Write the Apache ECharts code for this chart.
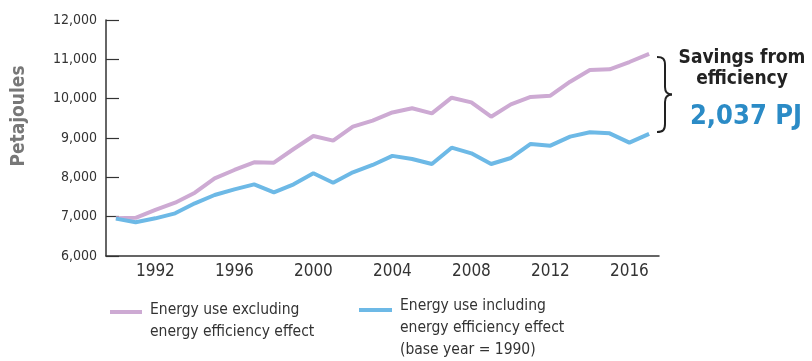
<!DOCTYPE html>
<html>
<head>
<meta charset="utf-8">
<script src="https://cdn.jsdelivr.net/npm/echarts@6/dist/echarts.min.js"></script>
<style>
  html, body { margin: 0; padding: 0; background: #fff; }
  #chart { width: 812px; height: 361px; }
</style>
</head>
<body>
<div id="chart"></div>
<script>
const years = [1990,1991,1992,1993,1994,1995,1996,1997,1998,1999,2000,2001,2002,2003,2004,2005,2006,2007,2008,2009,2010,2011,2012,2013,2014,2015,2016,2017];
const excludingEfficiency = [6960,6970,7170,7356,7610,7975,8187,8382,8373,8720,9051,8932,9288,9441,9650,9755,9627,10025,9907,9542,9856,10043,10076,10432,10729,10746,10932,11140];
const includingEfficiency = [6950,6856,6958,7085,7339,7551,7695,7822,7619,7822,8103,7864,8128,8314,8545,8466,8339,8754,8610,8339,8492,8848,8805,9034,9145,9119,8882,9103];
const yTicks = [6000,7000,8000,9000,10000,11000,12000];
const yAxisTitle = 'Petajoules';
const seriesNames = ['Energy use excluding\nenergy efficiency effect', 'Energy use including\nenergy efficiency effect\n(base year = 1990)'];
const savingsLabel = 'Savings from\nefficiency';
const savingsValue = '2,037 PJ';

const FONT = '"DejaVu Sans Condensed", "Liberation Sans", sans-serif';
const PINK = '#cdaad3';
const BLUE = '#6db9e6';

const braceStyle = { stroke: '#222', lineWidth: 2, fill: null };
const chart = echarts.init(document.getElementById('chart'), null, {renderer: 'canvas'});
chart.setOption({
  animation: false,
  textStyle: { fontFamily: FONT },
  grid: { left: 106, right: 153, top: 20, bottom: 105, containLabel: false },
  xAxis: {
    type: 'category',
    data: years.map(String),
    boundaryGap: true,
    axisLine: { lineStyle: { color: '#333', width: 1.5 } },
    axisTick: { inside: true, length: 5, interval: 0, lineStyle: { color: '#333', width: 1.2 } },
    axisLabel: {
      interval: (i, v) => (Number(v) - 1992) % 4 === 0,
      color: '#333', fontSize: 17, fontFamily: FONT, margin: 7
    },
    splitLine: { show: false }
  },
  yAxis: {
    type: 'value',
    min: yTicks[0], max: yTicks[yTicks.length - 1], interval: 1000,
    axisLine: { show: true, lineStyle: { color: '#333', width: 1.5 } },
    axisTick: { show: true, inside: true, length: 13, lineStyle: { color: '#333', width: 1.2 } },
    axisLabel: {
      color: '#333', fontSize: 14, fontFamily: FONT, margin: 9,
      formatter: v => v.toLocaleString('en-US')
    },
    splitLine: { show: false }
  },
  series: [
    {
      name: seriesNames[0], type: 'line', data: excludingEfficiency,
      symbol: 'none', lineStyle: { color: PINK, width: 4 }, itemStyle: { color: PINK }, z: 2
    },
    {
      name: seriesNames[1], type: 'line', data: includingEfficiency,
      symbol: 'none', lineStyle: { color: BLUE, width: 4 }, itemStyle: { color: BLUE }, z: 3
    }
  ],
  graphic: [
    // y axis title
    { type: 'text', x: 19, y: 116, rotation: Math.PI / 2,
      style: { text: yAxisTitle, fill: '#777', font: 'bold 19px ' + FONT, align: 'center', verticalAlign: 'middle' } },
    // legend
    { type: 'line', shape: { x1: 110, y1: 312, x2: 142, y2: 312 }, style: { stroke: PINK, lineWidth: 4 } },
    { type: 'text', x: 150, y: 299, style: { text: seriesNames[0], fill: '#333', font: '15.5px ' + FONT, lineHeight: 22 } },
    { type: 'line', shape: { x1: 359, y1: 310, x2: 392, y2: 310 }, style: { stroke: BLUE, lineWidth: 4 } },
    { type: 'text', x: 400, y: 295, style: { text: seriesNames[1], fill: '#333', font: '15.5px ' + FONT, lineHeight: 22 } },
    // brace
    { type: 'bezierCurve', shape: { x1: 657, y1: 57, x2: 665, y2: 65, cpx1: 663, cpy1: 57, cpx2: 665, cpy2: 59 }, style: braceStyle },
    { type: 'line', shape: { x1: 665, y1: 65, x2: 665, y2: 87 }, style: braceStyle },
    { type: 'bezierCurve', shape: { x1: 665, y1: 87, x2: 672, y2: 94.5, cpx1: 665, cpy1: 92, cpx2: 668, cpy2: 94.5 }, style: braceStyle },
    { type: 'bezierCurve', shape: { x1: 672, y1: 94.5, x2: 665, y2: 102, cpx1: 668, cpy1: 94.5, cpx2: 665, cpy2: 97 }, style: braceStyle },
    { type: 'line', shape: { x1: 665, y1: 102, x2: 665, y2: 124 }, style: braceStyle },
    { type: 'bezierCurve', shape: { x1: 665, y1: 124, x2: 657, y2: 132, cpx1: 665, cpy1: 130, cpx2: 663, cpy2: 132 }, style: braceStyle },
    // annotation
    { type: 'text', x: 742, y: 48, style: { text: savingsLabel, fill: '#222', font: 'bold 19px ' + FONT, align: 'center', lineHeight: 21 } },
    { type: 'text', x: 746, y: 103, style: { text: savingsValue, fill: '#2b8bc6', font: 'bold 27px ' + FONT, align: 'center' } }
  ]
});
</script>
</body>
</html>
